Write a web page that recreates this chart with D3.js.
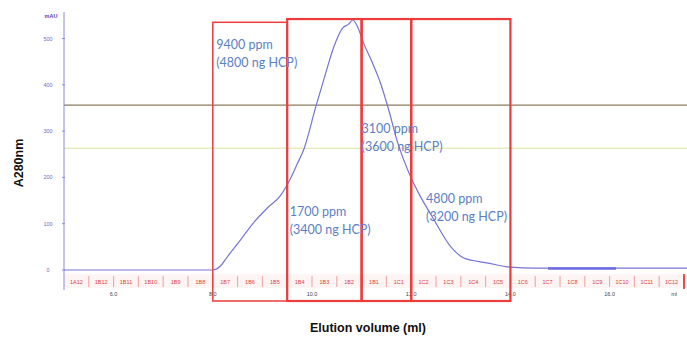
<!DOCTYPE html>
<html>
<head>
<meta charset="utf-8">
<script src="https://cdn.jsdelivr.net/npm/d3@7"></script>
<style>
  body { margin: 0; background: #fff; }
  svg { display: block; }
</style>
</head>
<body>
<svg id="chart" width="687" height="338"></svg>
<script>
// chromatogram trace (ml, mAU)
const volume = [5.0, 8.0, 8.15, 8.29, 8.56, 8.82, 9.10, 9.36, 9.53, 9.71, 9.83, 10.07, 10.27, 10.43, 10.62, 10.74, 10.82, 10.92, 11.04, 11.22, 11.38, 11.53, 11.73, 11.99, 12.19, 12.43, 12.80, 13.06, 13.55, 14.0, 14.5, 17.6];
const absorb = [0, 0, 8, 28, 65, 102, 134, 160, 190, 231, 259, 350, 423, 479, 523, 531, 540, 525, 490, 447, 404, 352, 274, 201, 158, 114, 50, 26, 15, 6, 4, 4];

// second (thick) trace segment
const volume2 = [14.76, 16.13];
const absorb2 = [3.5, 3.5];

// reference lines (mAU)
const refLevels = [356, 263];
const refColors = ['#8a7c5c', '#e8ebbf'];

const yTicks = [0, 100, 200, 300, 400, 500];
const xTicks = [6.0, 8.0, 10.0, 12.0, 14.0, 16.0];

// fractions, 0.5 ml each starting at 5.0 ml
const fractions = ['1A12', '1B12', '1B11', '1B10', '1B9', '1B8', '1B7', '1B6', '1B5', '1B4', '1B3', '1B2', '1B1',
  '1C1', '1C2', '1C3', '1C4', '1C5', '1C6', '1C7', '1C8', '1C9', '1C10', '1C11', '1C12'];
const fracStart = 5.0;
const fracWidth = 0.5;

// pooled regions and their HCP results
const poolStart = [8.0, 9.5, 11.0, 12.0];
const poolEnd = [9.5, 11.0, 12.0, 14.0];
const poolTop = [535, 542, 542, 542];
const ppmText = ['9400 ppm', '1700 ppm', '3100 ppm', '4800 ppm'];
const hcpText = ['(4800 ng HCP)', '(3400 ng HCP)', '(3600 ng HCP)', '(3200 ng HCP)'];
const labelAt = [[8.07, 478], [9.55, 116], [11.0, 295], [12.3, 144]];

const svg = d3.select('#chart');

const x = d3.scaleLinear().domain([5.0, 17.56]).range([64, 687]);
const y = d3.scaleLinear().domain([0, 500]).range([270, 38.5]);

const plotTop = 12, plotBottom = 290;

// fraction strip background
svg.append('rect')
  .attr('x', x(fracStart)).attr('y', 274)
  .attr('width', x(17.6) - x(fracStart)).attr('height', 14)
  .attr('fill', '#fdf4f4');

// reference lines
refLevels.forEach((v, i) => {
  svg.append('line')
    .attr('x1', x.range()[0]).attr('x2', 687)
    .attr('y1', y(v)).attr('y2', y(v))
    .attr('stroke', refColors[i]).attr('stroke-width', i === 0 ? 1.3 : 1.5);
});

// y axis
svg.append('line')
  .attr('x1', 64).attr('x2', 64).attr('y1', plotTop).attr('y2', plotBottom)
  .attr('stroke', '#8c8cd8').attr('stroke-width', 1);

svg.selectAll('.ytick').data(yTicks).enter().append('line')
  .attr('x1', 62).attr('x2', 65)
  .attr('y1', d => y(d)).attr('y2', d => y(d))
  .attr('stroke', '#8c8cd8');

svg.selectAll('.ylab').data(yTicks).enter().append('text')
  .attr('x', 48).attr('y', d => y(d) + 2)
  .attr('text-anchor', 'middle')
  .attr('font-family', 'Liberation Sans, Arial, sans-serif')
  .attr('font-size', 5.5)
  .attr('fill', '#6a6ac8')
  .text(d => d);

svg.append('text')
  .attr('x', 51).attr('y', 18)
  .attr('text-anchor', 'middle')
  .attr('font-family', 'Liberation Sans, Arial, sans-serif')
  .attr('font-size', 5.5).attr('font-weight', 'bold')
  .attr('fill', '#4a4ab8')
  .text('mAU');

// fraction separators and labels
const bounds = d3.range(fractions.length + 1).map(i => fracStart + i * fracWidth);
svg.selectAll('.fsep').data(bounds.slice(1)).enter().append('line')
  .attr('x1', d => x(d)).attr('x2', d => x(d))
  .attr('y1', 276).attr('y2', 287)
  .attr('stroke', '#e88a8a').attr('stroke-width', 0.8);

svg.selectAll('.flab').data(fractions).enter().append('text')
  .attr('x', (d, i) => x(fracStart + (i + 0.5) * fracWidth))
  .attr('y', 284)
  .attr('text-anchor', 'middle')
  .attr('font-family', 'Liberation Sans, Arial, sans-serif')
  .attr('font-size', 5.5)
  .attr('fill', '#e04040')
  .text(d => d);

svg.append('line')
  .attr('x1', x(17.5)).attr('x2', x(17.5)).attr('y1', 274).attr('y2', 289)
  .attr('stroke', '#e02020').attr('stroke-width', 1.5);

// x tick labels
svg.selectAll('.xlab').data(xTicks).enter().append('text')
  .attr('x', d => x(d)).attr('y', 296)
  .attr('text-anchor', 'middle')
  .attr('font-family', 'Liberation Sans, Arial, sans-serif')
  .attr('font-size', 5.5)
  .attr('fill', '#444')
  .text(d => d.toFixed(1));

svg.append('text')
  .attr('x', x(17.3)).attr('y', 296)
  .attr('text-anchor', 'middle')
  .attr('font-family', 'Liberation Sans, Arial, sans-serif')
  .attr('font-size', 5.5).attr('fill', '#444')
  .text('ml');

// trace
const trace = volume.map((v, i) => ({ v: v, a: absorb[i] }));
const line = d3.line().x(d => x(d.v)).y(d => y(d.a)).curve(d3.curveMonotoneX);

svg.append('path')
  .datum(trace)
  .attr('d', line)
  .attr('fill', 'none')
  .attr('stroke', '#7474d6')
  .attr('stroke-width', 1.2);

const trace2 = volume2.map((v, i) => ({ v: v, a: absorb2[i] }));
svg.append('path')
  .datum(trace2)
  .attr('d', line)
  .attr('fill', 'none')
  .attr('stroke', '#6b6be0')
  .attr('stroke-width', 2.5);

// pool boxes
poolStart.forEach((s, i) => {
  svg.append('rect')
    .attr('x', x(s)).attr('y', y(poolTop[i]))
    .attr('width', x(poolEnd[i]) - x(s))
    .attr('height', 301 - y(poolTop[i]))
    .attr('fill', 'none')
    .attr('stroke', '#ee3b3b')
    .attr('stroke-width', i === 0 ? 1.5 : 2.2);
});

// pool labels
labelAt.forEach((p, i) => {
  const t = svg.append('text')
    .attr('font-family', 'Lato, Calibri, sans-serif')
    .attr('font-size', 12.5)
    .attr('fill', '#5b7fc6');
  t.append('tspan').attr('x', x(p[0])).attr('y', y(p[1])).text(ppmText[i]);
  t.append('tspan').attr('x', x(p[0])).attr('y', y(p[1]) + 18).text(hcpText[i]);
});

// axis titles
svg.append('text')
  .attr('transform', 'translate(23,163) rotate(-90)')
  .attr('text-anchor', 'middle')
  .attr('font-family', 'Liberation Sans, Arial, sans-serif')
  .attr('font-size', 12.5).attr('font-weight', 'bold')
  .attr('fill', '#111')
  .text('A280nm');

svg.append('text')
  .attr('x', 368).attr('y', 332)
  .attr('text-anchor', 'middle')
  .attr('font-family', 'Liberation Sans, Arial, sans-serif')
  .attr('font-size', 12.5).attr('font-weight', 'bold')
  .attr('fill', '#111')
  .text('Elution volume (ml)');
</script>
</body>
</html>
